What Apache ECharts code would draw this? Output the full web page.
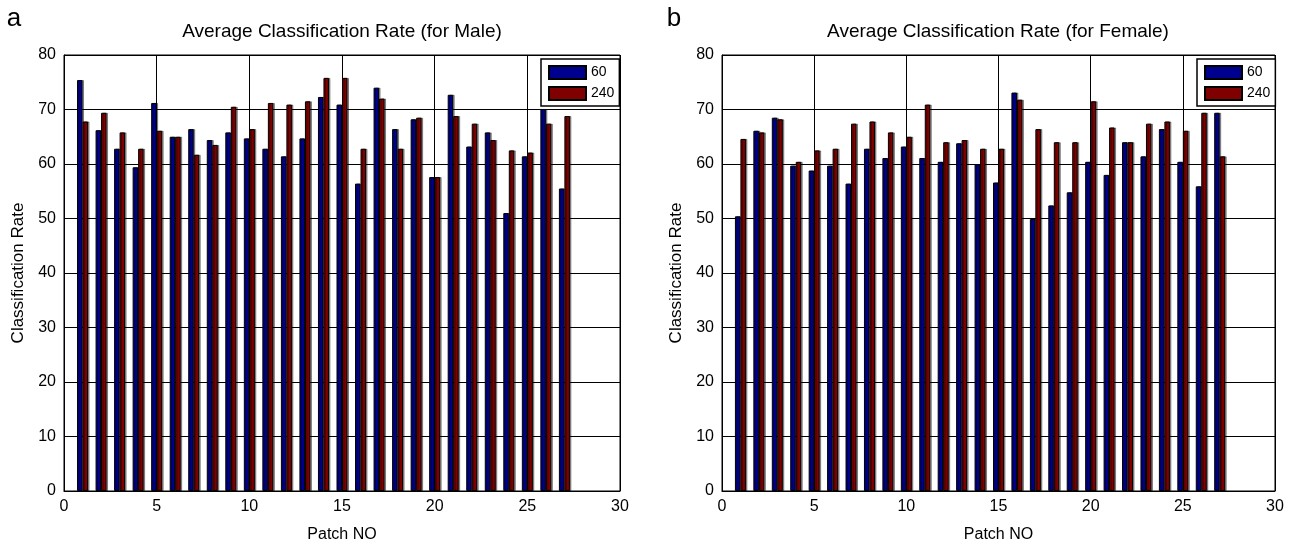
<!DOCTYPE html>
<html>
<head>
<meta charset="utf-8">
<script src="https://cdn.jsdelivr.net/npm/echarts@6/dist/echarts.min.js"></script>
<style>
html,body{margin:0;padding:0;background:#fff;}
#c{width:1293px;height:548px;}
</style>
</head>
<body>
<div id="c"></div>
<script>
// Patch numbers
const patches = [1,2,3,4,5,6,7,8,9,10,11,12,13,14,15,16,17,18,19,20,21,22,23,24,25,26,27];
// Male (a)
const male60  = [75.4,66.2,62.8,59.4,71.2,65.0,66.4,64.4,65.8,64.7,62.8,61.4,64.7,72.3,70.9,56.4,74.0,66.4,68.2,57.6,72.7,63.2,65.8,51.0,61.4,70.1,55.5];
const male240 = [67.8,69.4,65.8,62.8,66.1,65.0,61.7,63.5,70.5,66.4,71.2,70.9,71.5,75.8,75.8,62.8,72.0,62.8,68.5,57.6,68.8,67.4,64.4,62.5,62.1,67.4,68.8];
// Female (b)
const female60  = [50.4,66.1,68.5,59.7,58.8,59.7,56.4,62.8,61.1,63.2,61.1,60.4,63.8,60.0,56.6,73.1,49.9,52.4,54.8,60.4,58.0,64.0,61.4,66.4,60.4,55.9,69.4];
const female240 = [64.6,65.8,68.2,60.4,62.5,62.8,67.4,67.8,65.8,65.0,70.9,64.0,64.4,62.8,62.8,71.8,66.4,64.0,64.0,71.5,66.7,64.0,67.4,67.8,66.1,69.4,61.4];
// Axis ticks
const xTicks = [0,5,10,15,20,25,30];
const yTicks = [0,10,20,30,40,50,60,70,80];
const titles = ['Average Classification Rate (for Male)','Average Classification Rate (for Female)'];
const panelLetters = ['a','b'];
const seriesNames = ['60','240'];

const FONT = "'Liberation Sans', Arial, sans-serif";
const BLUE = '#00008f', RED = '#800000';

const grids = [
  {left:64, top:55, width:556, height:436},
  {left:722, top:55, width:553, height:436}
];

function xAxisFor(i){
  return {
    gridIndex:i, type:'value', min:xTicks[0], max:xTicks[xTicks.length-1], interval:5,
    name:'Patch NO', nameLocation:'middle', nameGap:36,
    nameTextStyle:{color:'#000', fontSize:16, fontFamily:FONT},
    axisLine:{show:true, onZero:false, lineStyle:{color:'#000', width:1}},
    axisTick:{show:true, inside:true, length:5, lineStyle:{color:'#000'}},
    axisLabel:{color:'#000', fontSize:16, fontFamily:FONT, margin:8},
    splitLine:{show:true, lineStyle:{color:'#000', width:1}}
  };
}
function yAxisFor(i){
  return {
    gridIndex:i, type:'value', min:yTicks[0], max:yTicks[yTicks.length-1], interval:10,
    name:'Classification Rate', nameLocation:'middle', nameGap:37,
    nameTextStyle:{color:'#000', fontSize:17, fontFamily:FONT},
    axisLine:{show:true, lineStyle:{color:'#000', width:1}},
    axisTick:{show:true, inside:true, length:5, lineStyle:{color:'#000'}},
    axisLabel:{color:'#000', fontSize:16, fontFamily:FONT, margin:8},
    splitLine:{show:true, lineStyle:{color:'#000', width:1}}
  };
}
function barSeries(name, xs, ys, idx, color){
  return {
    name:name, type:'bar', xAxisIndex:idx, yAxisIndex:idx,
    data: xs.map((x,k)=>[x, ys[k]]),
    barWidth:5.5, barGap:'0%',
    itemStyle:{color:color, borderColor:'#000', borderWidth:1,
      shadowColor:'rgba(0,0,0,0.4)', shadowOffsetX:1.5, shadowOffsetY:0, shadowBlur:0},
    emphasis:{disabled:true}, animation:false
  };
}
function legendFor(i, left){
  return {
    orient:'vertical', left:left, top:59,
    icon:'rect',
    itemWidth:37, itemHeight:13, itemGap:6,
    padding:[6,5,5,7],
    borderColor:'#000', borderWidth:1.5, backgroundColor:'#fff',
    textStyle:{color:'#000', fontSize:14, fontFamily:FONT},
    data:seriesNames, selectedMode:false
  };
}

const chart = echarts.init(document.getElementById('c'), null, {renderer:'canvas'});
chart.setOption({
  backgroundColor:'#fff',
  animation:false,
  grid: grids.map(g=>Object.assign({show:true, borderColor:'#000', borderWidth:1, containLabel:false}, g)),
  xAxis:[xAxisFor(0), xAxisFor(1)],
  yAxis:[yAxisFor(0), yAxisFor(1)],
  legend:[legendFor(0, 541), legendFor(1, 1197)],
  series:[
    barSeries(seriesNames[0], patches, male60, 0, BLUE),
    barSeries(seriesNames[1], patches, male240, 0, RED),
    barSeries(seriesNames[0], patches, female60, 1, BLUE),
    barSeries(seriesNames[1], patches, female240, 1, RED)
  ],
  graphic:[
    {type:'text', x:342, y:32, style:{text:titles[0], fill:'#000', font:'19px '+FONT, textAlign:'center', textVerticalAlign:'middle'}},
    {type:'text', x:998, y:32, style:{text:titles[1], fill:'#000', font:'19px '+FONT, textAlign:'center', textVerticalAlign:'middle'}},
    {type:'text', x:14, y:19, style:{text:panelLetters[0], fill:'#000', font:'26px '+FONT, textAlign:'center', textVerticalAlign:'middle'}},
    {type:'text', x:674, y:19, style:{text:panelLetters[1], fill:'#000', font:'26px '+FONT, textAlign:'center', textVerticalAlign:'middle'}}
  ]
});
</script>
</body>
</html>
